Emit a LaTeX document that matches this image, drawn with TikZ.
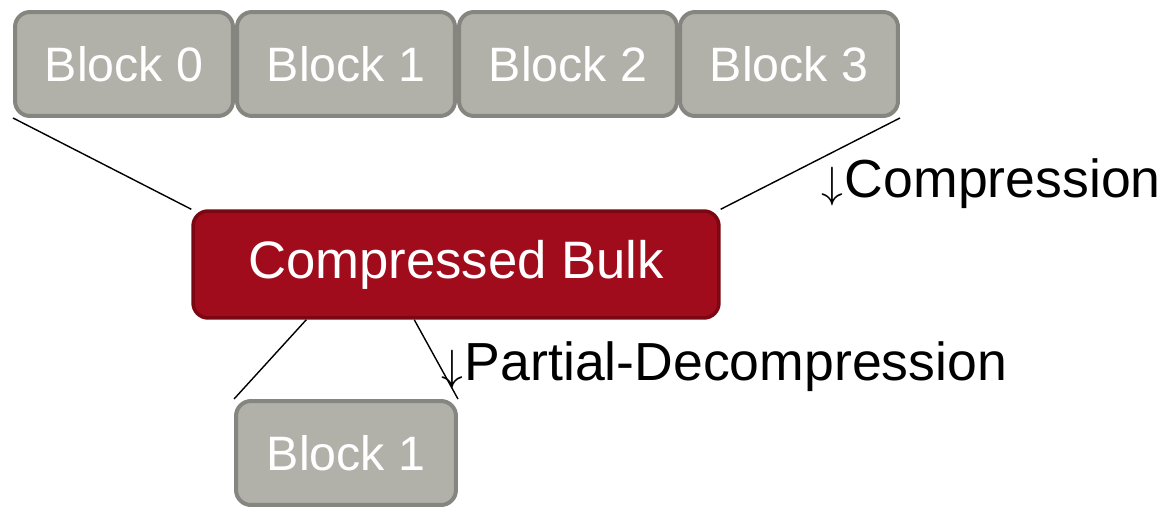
\documentclass[tikz,border=0pt]{standalone}
\usepackage{fontspec}
\setmainfont{Liberation Sans}
\usetikzlibrary{calc}
\definecolor{blkfill}{HTML}{B1B1AA}
\definecolor{blkdraw}{HTML}{868680}
\definecolor{bulkfill}{HTML}{A10C1C}
\definecolor{bulkdraw}{HTML}{7B0713}
\tikzset{
  blockbox/.style={draw=blkdraw, fill=blkfill, line width=0.08cm, rounded corners=0.3cm,
    minimum width=4.36cm, minimum height=2.08cm, text=white, inner sep=0pt,
    font=\fontsize{27.5}{32}\selectfont},
  bulkbox/.style={draw=bulkdraw, fill=bulkfill, line width=0.07cm, rounded corners=0.3cm,
    minimum width=10.52cm, minimum height=2.14cm, text=white, inner sep=0pt,
    font=\fontsize{30}{36}\selectfont},
  link/.style={black, line width=0.8pt},
  lbl/.style={anchor=base west, inner sep=0pt, font=\fontsize{30.5}{36}\selectfont}
}
\begin{document}
\begin{tikzpicture}[x=0.02cm, y=-0.02cm]
\useasboundingbox (0,0) rectangle (1165,507);
\begin{scope}
\clip (0,0) rectangle (1165,507);
\node[blockbox] (b0) at (124,64) {Block 0};
\node[blockbox] (b1) at (346,64) {Block 1};
\node[blockbox] (b2) at (568,64) {Block 2};
\node[blockbox] (b3) at (789,64) {Block 3};
\node[bulkbox] (bulk) at (456,264.5) {Compressed Bulk};
\node[blockbox, minimum width=4.4cm] (pb) at (346,453) {Block 1};
\end{scope}
\draw[link] (b0.south west) -- (bulk.north west);
\draw[link] (b3.south east) -- (bulk.north east);
\draw[link] ([xshift=2.3cm]bulk.south west) -- (pb.north west);
\draw[link] ([xshift=4.46cm]bulk.south west) -- (pb.north east);
\node[lbl] (lc) at (821,197) {$\downarrow$\kern1pt Compression};
\node[lbl] (lp) at (441,380) {$\downarrow$\kern1pt Partial-Decompression};
\end{tikzpicture}
\end{document}
